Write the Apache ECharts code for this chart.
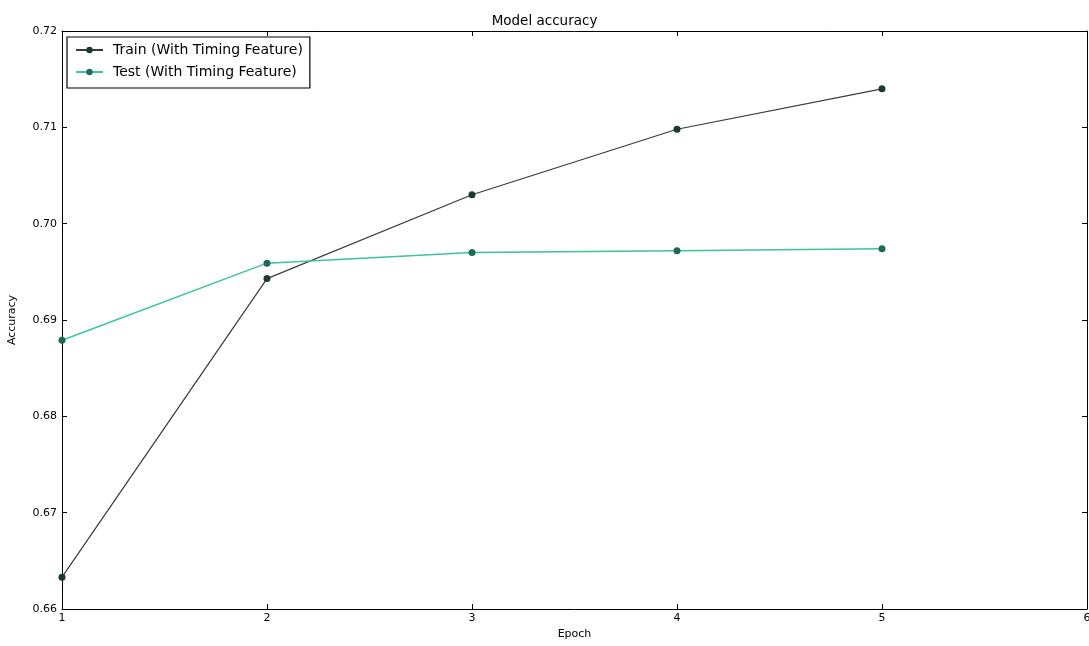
<!DOCTYPE html>
<html><head><meta charset="utf-8">
<script src="https://cdn.jsdelivr.net/npm/echarts@6/dist/echarts.min.js"></script>
<style>html,body{margin:0;padding:0;background:#fff}#c{width:1089px;height:646px}</style>
</head><body><div id="c"></div>
<script>
const epochs = [1, 2, 3, 4, 5];
const trainAcc = [0.6633, 0.6943, 0.7030, 0.7098, 0.7140];
const testAcc = [0.6879, 0.6959, 0.6970, 0.6972, 0.6974];
const seriesNames = ['Train (With Timing Feature)', 'Test (With Timing Feature)'];

const chart = echarts.init(document.getElementById('c'));
const font = 'DejaVu Sans';
const pair = (xs, ys) => xs.map((x, i) => [x, ys[i]]);
const tickStyle = {show: true, inside: true, length: 5, lineStyle: {color: '#000'}};
chart.setOption({
  animation: false,
  textStyle: {fontFamily: font},
  title: {text: 'Model accuracy', left: 'center', top: 9,
    textStyle: {fontSize: 13.5, fontWeight: 'normal', color: '#000', fontFamily: font}},
  legend: {
    left: 67, top: 37, orient: 'vertical', itemGap: 8, itemWidth: 27, itemHeight: 8,
    borderColor: '#000', borderWidth: 1.2, padding: [6, 7, 9, 8], backgroundColor: '#fff',
    textStyle: {fontSize: 14, color: '#000', fontFamily: font, padding: [0, 0, 0, 5]},
    data: seriesNames
  },
  grid: {left: 62, right: 2, top: 31, bottom: 37, outerBoundsMode: 'none', containLabel: false},
  xAxis: [{
    type: 'value', min: 1, max: 6, interval: 1,
    name: 'Epoch', nameLocation: 'middle', nameGap: 20,
    nameTextStyle: {fontSize: 11, color: '#000'},
    axisLine: {lineStyle: {color: '#000', width: 1}},
    axisTick: tickStyle, splitLine: {show: false},
    axisLabel: {fontSize: 11, color: '#000', margin: 4}
  }, {
    type: 'value', min: 1, max: 6, interval: 1, position: 'top',
    axisLine: {show: true, lineStyle: {color: '#000'}}, axisTick: tickStyle,
    axisLabel: {show: false}, splitLine: {show: false}
  }],
  yAxis: [{
    type: 'value', min: 0.66, max: 0.72, interval: 0.01,
    name: 'Accuracy', nameLocation: 'middle', nameGap: 44, nameRotate: 90,
    nameTextStyle: {fontSize: 11, color: '#000'},
    axisLine: {show: true, lineStyle: {color: '#000', width: 1}},
    axisTick: tickStyle, splitLine: {show: false},
    axisLabel: {fontSize: 11, color: '#000', margin: 5, formatter: v => v.toFixed(2)}
  }, {
    type: 'value', min: 0.66, max: 0.72, interval: 0.01, position: 'right',
    axisLine: {show: true, lineStyle: {color: '#000'}}, axisTick: tickStyle,
    axisLabel: {show: false}, splitLine: {show: false}
  }],
  series: [{
    name: seriesNames[0], type: 'line', data: pair(epochs, trainAcc),
    symbol: 'circle', symbolSize: 7,
    lineStyle: {color: '#3a3a3a', width: 1.2},
    itemStyle: {color: '#1c3a32', borderWidth: 0}
  }, {
    name: seriesNames[1], type: 'line', data: pair(epochs, testAcc),
    symbol: 'circle', symbolSize: 7,
    lineStyle: {color: '#3cc3a0', width: 1.5},
    itemStyle: {color: '#1d6b57', borderWidth: 0}
  }]
});
</script></body></html>
